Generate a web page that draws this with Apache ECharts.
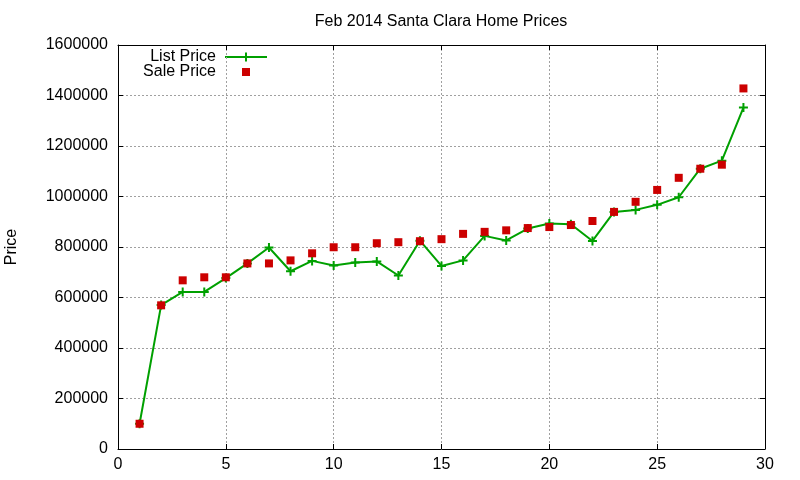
<!DOCTYPE html>
<html>
<head>
<meta charset="utf-8">
<title>Feb 2014 Santa Clara Home Prices</title>
<script src="https://cdn.jsdelivr.net/npm/echarts@6/dist/echarts.min.js"></script>
<style>
  html, body { margin: 0; padding: 0; background: #fff; }
  #main { width: 800px; height: 480px; }
</style>
</head>
<body>
<div id="main"></div>
<script>
// day of month (x) and prices
var days = [1, 2, 3, 4, 5, 6, 7, 8, 9, 10, 11, 12, 13, 14, 15, 16, 17, 18, 19, 20,
  21, 22, 23, 24, 25, 26, 27, 28, 29];
var listPrice = [100000, 570000, 622000, 622000, 677000, 735000, 798000, 704000, 745000, 727000,
  739000, 743000, 687000, 825000, 725000, 747000, 844000, 826000, 873000, 893000,
  890000, 824000, 939000, 947000, 967000, 997000, 1110000, 1142000, 1352000];
var salePrice = [100000, 569000, 668000, 680000, 680000, 735000, 735000, 747000, 775000, 799000,
  799000, 815000, 819000, 823000, 831000, 852000, 860000, 866000, 875000, 879000,
  887000, 903000, 939000, 979000, 1026000, 1074000, 1110000, 1126000, 1428000];
var xTicks = { min: 0, max: 30, interval: 5 };
var yTicks = { min: 0, max: 1600000, interval: 200000 };

window.onload = function () {
  var myChart = echarts.init(document.getElementById('main'));
  var font = '"Liberation Sans", Arial, sans-serif';
  var plus = 'path://M3.5,0h2v3.5h3.5v2h-3.5v3.5h-2v-3.5h-3.5v-2h3.5z';

  function pairs(ys) {
    return days.map(function (d, i) { return [d, ys[i]]; });
  }

  var tickStyle = { show: true, inside: true, length: 5, lineStyle: { color: '#000', width: 1 } };
  var gridLine = {
    show: true, showMinLine: false, showMaxLine: false,
    lineStyle: { color: '#a0a0a0', type: [2, 2], width: 1 }
  };
  var axisLine = { show: true, onZero: false, lineStyle: { color: '#000', width: 1 } };

  var option = {
    animation: false,
    title: {
      text: 'Feb 2014 Santa Clara Home Prices',
      left: 436, top: 9, textAlign: 'center',
      textStyle: { fontFamily: font, fontSize: 16, fontWeight: 'normal', color: '#000' }
    },
    grid: { left: 118, right: 35, top: 45, bottom: 31, containLabel: false, outerBoundsMode: 'none' },
    xAxis: [
      {
        type: 'value', min: xTicks.min, max: xTicks.max, interval: xTicks.interval,
        axisLine: axisLine,
        axisTick: tickStyle,
        axisLabel: { fontFamily: font, fontSize: 16, color: '#000', margin: 8 },
        splitLine: gridLine
      },
      {
        type: 'value', position: 'top', min: xTicks.min, max: xTicks.max, interval: xTicks.interval,
        axisLine: axisLine,
        axisTick: tickStyle,
        axisLabel: { show: false },
        splitLine: { show: false }
      }
    ],
    yAxis: [
      {
        type: 'value', min: yTicks.min, max: yTicks.max, interval: yTicks.interval,
        name: 'Price', nameLocation: 'middle', nameGap: 98, nameRotate: 90,
        nameTextStyle: { fontFamily: font, fontSize: 16, color: '#000' },
        axisLine: axisLine,
        axisTick: tickStyle,
        axisLabel: {
          fontFamily: font, fontSize: 16, color: '#000', margin: 10,
          formatter: function (v) { return String(v); }
        },
        splitLine: gridLine
      },
      {
        type: 'value', position: 'right', min: yTicks.min, max: yTicks.max, interval: yTicks.interval,
        axisLine: axisLine,
        axisTick: tickStyle,
        axisLabel: { show: false },
        splitLine: { show: false }
      }
    ],
    series: [
      {
        name: 'List Price', type: 'line',
        data: pairs(listPrice),
        symbol: plus, symbolSize: 9, showAllSymbol: true,
        itemStyle: { color: '#00a000' },
        lineStyle: { color: '#00a000', width: 2 },
        z: 2
      },
      {
        name: 'Sale Price', type: 'scatter',
        data: pairs(salePrice),
        symbol: 'rect', symbolSize: 8,
        itemStyle: { color: '#cc0000', opacity: 1 },
        z: 3
      }
    ],
    graphic: [
      {
        type: 'text', x: 216, y: 57,
        style: { text: 'List Price', font: '16px ' + font, fill: '#000', align: 'right', verticalAlign: 'middle' }
      },
      {
        type: 'line', shape: { x1: 225, y1: 57, x2: 267, y2: 57 },
        style: { stroke: '#00a000', lineWidth: 2 }
      },
      {
        type: 'line', shape: { x1: 246, y1: 52.5, x2: 246, y2: 61.5 },
        style: { stroke: '#00a000', lineWidth: 2 }
      },
      {
        type: 'text', x: 216, y: 72,
        style: { text: 'Sale Price', font: '16px ' + font, fill: '#000', align: 'right', verticalAlign: 'middle' }
      },
      {
        type: 'rect', shape: { x: 242, y: 68, width: 8, height: 8 },
        style: { fill: '#cc0000' }
      }
    ]
  };

  myChart.setOption(option);
};
</script>
</body>
</html>
